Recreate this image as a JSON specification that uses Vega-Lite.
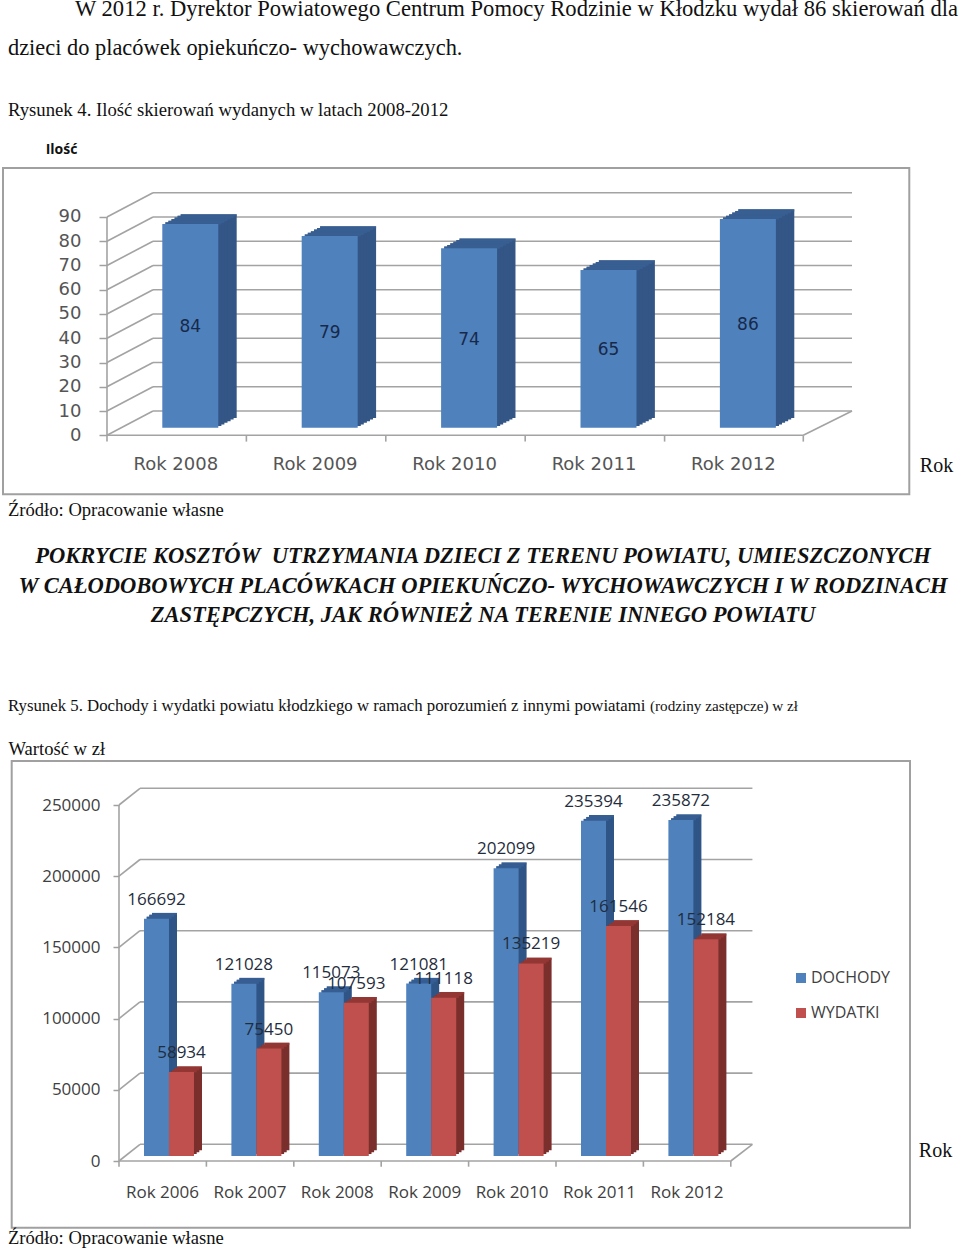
{
"$schema":"https://vega.github.io/schema/vega-lite/v6.json",
"padding":{"left":0,"right":0,"top":-2,"bottom":0},"background":"white","spacing":0,"bounds":"flush",
"config":{"view":{"stroke":null},"text":{"font":"Liberation Serif","color":"#111111"}},
"datasets":{
"skierowania":[{"rok":2008,"ilosc":84,"polowa":42},{"rok":2009,"ilosc":79,"polowa":39.5},{"rok":2010,"ilosc":74,"polowa":37},{"rok":2011,"ilosc":65,"polowa":32.5},{"rok":2012,"ilosc":86,"polowa":43}],
"siatka1":[{"v":0,"vb":10},{"v":10,"vb":20},{"v":20,"vb":30},{"v":30,"vb":40},{"v":40,"vb":50},{"v":50,"vb":60},{"v":60,"vb":70},{"v":70,"vb":80},{"v":80,"vb":90},{"v":90,"vb":100}],
"kreski1":[{"g":2007.4024},{"g":2008.4024},{"g":2009.4024},{"g":2010.4024},{"g":2011.4024},{"g":2012.3974}],
"dochody":[{"rok":2006,"seria":"DOCHODY","w":166692},{"rok":2007,"seria":"DOCHODY","w":121028},{"rok":2008,"seria":"DOCHODY","w":115073},{"rok":2009,"seria":"DOCHODY","w":121081},{"rok":2010,"seria":"DOCHODY","w":202099},{"rok":2011,"seria":"DOCHODY","w":235394},{"rok":2012,"seria":"DOCHODY","w":235872}],
"wydatki":[{"rok":2006,"seria":"WYDATKI","w":58934},{"rok":2007,"seria":"WYDATKI","w":75450},{"rok":2008,"seria":"WYDATKI","w":107593},{"rok":2009,"seria":"WYDATKI","w":111118},{"rok":2010,"seria":"WYDATKI","w":135219},{"rok":2011,"seria":"WYDATKI","w":161546},{"rok":2012,"seria":"WYDATKI","w":152184}],
"siatka2":[{"v":0,"vb":11727},{"v":50000,"vb":61727},{"v":100000,"vb":111727},{"v":150000,"vb":161727},{"v":200000,"vb":211727},{"v":250000,"vb":261727}],
"kreski2":[{"g":2005.4279},{"g":2006.4279},{"g":2007.4279},{"g":2008.4279},{"g":2009.4279},{"g":2010.4279},{"g":2011.4279},{"g":2012.4279}]
},
"vconcat":[
{"width":960,"height":640,
"layer":[
{"mark":{"type":"rect","filled":false,"stroke":"#A0A0A0","strokeWidth":2},"data":{"values":[{"a":1}]},
 "encoding":{"x":{"datum":2006.6564,"type":"quantitative","scale":{"domain":[2006.6349,2013.5216],"nice":false,"zero":false,"padding":0},
   "axis":{"orient":"bottom","offset":-185,"values":[2008,2009,2010,2011,2012],"labelExpr":"'Rok ' + datum.value","domain":false,"ticks":false,"grid":false,"labelPadding":0,"labelOffset":-15,"labelFont":"DejaVu Sans","labelFontSize":18,"labelColor":"#555555","labelOverlap":false,
    "title":"Rok","titleFont":"Liberation Serif","titleFontSize":20,"titleFontWeight":"normal","titleColor":"#111111","titleX":936,"titleY":10,"titleAlign":"center","titleBaseline":"middle"}},
  "x2":{"datum":2013.1578},
  "y":{"datum":110.18,"type":"quantitative","scale":{"domain":[-84.38,179.43],"nice":false,"zero":false},
   "axis":{"orient":"left","offset":-107,"values":[0,10,20,30,40,50,60,70,80,90],"domain":false,"grid":false,"tickSize":8,"tickColor":"#A0A0A0","tickWidth":1.5,"labelPadding":18,"labelFont":"DejaVu Sans","labelFontSize":18,"labelColor":"#555555",
    "title":"Ilość","titleFont":"Open Sans","titleFontSize":14,"titleFontWeight":"bold","titleColor":"#111111","titleAngle":0,"titleX":-46,"titleY":149,"titleAlign":"center","titleBaseline":"middle"}},
  "y2":{"datum":-24.32}}},
{"data":{"name":"siatka1"},"mark":{"type":"rule","stroke":"#A3A3A3","strokeWidth":1.6},"encoding":{"x":{"datum":2007.7324,"type":"quantitative"},"x2":{"datum":2012.7469},"y":{"field":"vb","type":"quantitative"}}},
{"data":{"name":"siatka1"},"mark":{"type":"rule","stroke":"#A3A3A3","strokeWidth":1.6},"encoding":{"x":{"datum":2007.4024,"type":"quantitative"},"x2":{"datum":2007.7324},"y":{"field":"v","type":"quantitative"},"y2":{"field":"vb"}}},
{"data":{"values":[{"a":1}]},"mark":{"type":"rule","stroke":"#A3A3A3","strokeWidth":1.6},"encoding":{"x":{"datum":2007.4024,"type":"quantitative"},"y":{"datum":0,"type":"quantitative"},"y2":{"datum":90}}},
{"data":{"values":[{"a":1}]},"mark":{"type":"rule","stroke":"#A3A3A3","strokeWidth":1.6},"encoding":{"x":{"datum":2007.4024,"type":"quantitative"},"x2":{"datum":2012.3974},"y":{"datum":0,"type":"quantitative"}}},
{"data":{"values":[{"a":1}]},"mark":{"type":"rule","stroke":"#A3A3A3","strokeWidth":1.6},"encoding":{"x":{"datum":2012.3974,"type":"quantitative"},"x2":{"datum":2012.7469},"y":{"datum":0,"type":"quantitative"},"y2":{"datum":10}}},
{"data":{"name":"kreski1"},"mark":{"type":"rule","stroke":"#A3A3A3","strokeWidth":1.6},"encoding":{"x":{"field":"g","type":"quantitative"},"y":{"datum":0,"type":"quantitative"},"y2":{"datum":-2.6}}},
{"data":{"name":"skierowania"},"mark":{"type":"bar","orient":"vertical","size":56,"color":"#335686","xOffset":18.4,"yOffset":-17.3,"y2Offset":-17.3},"encoding":{"x":{"field":"rok","type":"quantitative"},"y":{"field":"ilosc","type":"quantitative"},"y2":{"datum":0}}},
{"data":{"name":"skierowania"},"mark":{"type":"bar","orient":"vertical","size":56,"color":"#335686","xOffset":15.3,"yOffset":-15.7,"y2Offset":-15.7},"encoding":{"x":{"field":"rok","type":"quantitative"},"y":{"field":"ilosc","type":"quantitative"},"y2":{"datum":0}}},
{"data":{"name":"skierowania"},"mark":{"type":"bar","orient":"vertical","size":56,"color":"#335686","xOffset":12.3,"yOffset":-14.1,"y2Offset":-14.1},"encoding":{"x":{"field":"rok","type":"quantitative"},"y":{"field":"ilosc","type":"quantitative"},"y2":{"datum":0}}},
{"data":{"name":"skierowania"},"mark":{"type":"bar","orient":"vertical","size":56,"color":"#335686","xOffset":9.2,"yOffset":-12.5,"y2Offset":-12.5},"encoding":{"x":{"field":"rok","type":"quantitative"},"y":{"field":"ilosc","type":"quantitative"},"y2":{"datum":0}}},
{"data":{"name":"skierowania"},"mark":{"type":"bar","orient":"vertical","size":56,"color":"#335686","xOffset":6.1,"yOffset":-10.8,"y2Offset":-10.8},"encoding":{"x":{"field":"rok","type":"quantitative"},"y":{"field":"ilosc","type":"quantitative"},"y2":{"datum":0}}},
{"data":{"name":"skierowania"},"mark":{"type":"bar","orient":"vertical","size":56,"color":"#335686","xOffset":3.1,"yOffset":-9.2,"y2Offset":-9.2},"encoding":{"x":{"field":"rok","type":"quantitative"},"y":{"field":"ilosc","type":"quantitative"},"y2":{"datum":0}}},
{"data":{"name":"skierowania"},"mark":{"type":"tick","orient":"horizontal","size":56,"thickness":2.2,"color":"#3B6395","xOffset":18.4,"yOffset":-16.2},"encoding":{"x":{"field":"rok","type":"quantitative"},"y":{"field":"ilosc","type":"quantitative"}}},
{"data":{"name":"skierowania"},"mark":{"type":"tick","orient":"horizontal","size":56,"thickness":2.2,"color":"#3B6395","xOffset":15.3,"yOffset":-14.6},"encoding":{"x":{"field":"rok","type":"quantitative"},"y":{"field":"ilosc","type":"quantitative"}}},
{"data":{"name":"skierowania"},"mark":{"type":"tick","orient":"horizontal","size":56,"thickness":2.2,"color":"#3B6395","xOffset":12.3,"yOffset":-13},"encoding":{"x":{"field":"rok","type":"quantitative"},"y":{"field":"ilosc","type":"quantitative"}}},
{"data":{"name":"skierowania"},"mark":{"type":"tick","orient":"horizontal","size":56,"thickness":2.2,"color":"#3B6395","xOffset":9.2,"yOffset":-11.4},"encoding":{"x":{"field":"rok","type":"quantitative"},"y":{"field":"ilosc","type":"quantitative"}}},
{"data":{"name":"skierowania"},"mark":{"type":"tick","orient":"horizontal","size":56,"thickness":2.2,"color":"#3B6395","xOffset":6.1,"yOffset":-9.7},"encoding":{"x":{"field":"rok","type":"quantitative"},"y":{"field":"ilosc","type":"quantitative"}}},
{"data":{"name":"skierowania"},"mark":{"type":"tick","orient":"horizontal","size":56,"thickness":2.2,"color":"#3B6395","xOffset":3.1,"yOffset":-8.2},"encoding":{"x":{"field":"rok","type":"quantitative"},"y":{"field":"ilosc","type":"quantitative"}}},
{"data":{"name":"skierowania"},"mark":{"type":"bar","orient":"vertical","size":56,"color":"#4F81BD","yOffset":-7.6,"y2Offset":-7.6},"encoding":{"x":{"field":"rok","type":"quantitative"},"y":{"field":"ilosc","type":"quantitative"},"y2":{"datum":0}}},
{"data":{"name":"skierowania"},"mark":{"type":"text","font":"DejaVu Sans","fontSize":17,"color":"#17294A","dy":-6,"baseline":"middle"},"encoding":{"x":{"field":"rok","type":"quantitative"},"y":{"field":"polowa","type":"quantitative"},"text":{"field":"ilosc","type":"quantitative"}}},
{"data":{"values":[{"a":1}]},"mark":{"type":"text","text":"W 2012 r. Dyrektor Powiatowego Centrum Pomocy Rodzinie w Kłodzku wydał 86 skierowań dla","fontSize":22.6,"align":"left","baseline":"alphabetic"},"encoding":{"x":{"datum":2007.173,"type":"quantitative"},"y":{"datum":172.8,"type":"quantitative"}}},
{"data":{"values":[{"a":1}]},"mark":{"type":"text","text":"dzieci do placówek opiekuńczo- wychowawczych.","fontSize":22.4,"align":"left","baseline":"alphabetic"},"encoding":{"x":{"datum":2006.692,"type":"quantitative"},"y":{"datum":156.8,"type":"quantitative"}}},
{"data":{"values":[{"a":1}]},"mark":{"type":"text","text":"Rysunek 4. Ilość skierowań wydanych w latach 2008-2012","fontSize":18.7,"align":"left","baseline":"alphabetic"},"encoding":{"x":{"datum":2006.692,"type":"quantitative"},"y":{"datum":131.6,"type":"quantitative"}}},
{"data":{"values":[{"a":1}]},"mark":{"type":"text","text":"Źródło: Opracowanie własne","fontSize":18.6,"align":"left","baseline":"alphabetic"},"encoding":{"x":{"datum":2006.692,"type":"quantitative"},"y":{"datum":-33.3,"type":"quantitative"}}},
{"data":{"values":[{"a":1}]},"mark":{"type":"text","text":["POKRYCIE KOSZTÓW\u00a0 UTRZYMANIA DZIECI Z TERENU POWIATU, UMIESZCZONYCH","W CAŁODOBOWYCH PLACÓWKACH OPIEKUŃCZO- WYCHOWAWCZYCH I W RODZINACH","ZASTĘPCZYCH, JAK RÓWNIEŻ NA TERENIE INNEGO POWIATU"],"fontSize":22.5,"fontWeight":"bold","fontStyle":"italic","lineHeight":29.7,"align":"center","baseline":"alphabetic"},"encoding":{"x":{"datum":2010.0997,"type":"quantitative"},"y":{"datum":-52.6,"type":"quantitative"}}}
]},
{"width":960,"height":610,
"layer":[
{"mark":{"type":"rect","filled":false,"stroke":"#A0A0A0","strokeWidth":2},"data":{"values":[{"a":1}]},
 "encoding":{"x":{"datum":2004.2003,"type":"quantitative","scale":{"domain":[2004.0664,2015.0503],"nice":false,"zero":false,"padding":0},
   "axis":{"orient":"bottom","offset":-66,"values":[2006,2007,2008,2009,2010,2011,2012],"labelExpr":"'Rok ' + datum.value","domain":false,"ticks":false,"grid":false,"labelPadding":0,"labelOffset":-7,"labelFont":"Open Sans","labelFontSize":17,"labelColor":"#404040","labelOverlap":false,
    "title":"Rok","titleFont":"Liberation Serif","titleFontSize":20,"titleFontWeight":"normal","titleColor":"#111111","titleX":935,"titleY":-34,"titleAlign":"center","titleBaseline":"middle"}},
  "x2":{"datum":2014.4783},
  "y":{"datum":280899,"type":"quantitative","scale":{"domain":[-62500,365871],"nice":false,"zero":false},
   "axis":{"orient":"left","offset":-119,"values":[0,50000,100000,150000,200000,250000],"format":"d","domain":false,"grid":false,"tickSize":6,"tickColor":"#A0A0A0","tickWidth":1.5,"labelPadding":13,"labelFont":"Open Sans","labelFontSize":17,"labelColor":"#404040",
    "title":"Wartość w zł","titleFont":"Liberation Serif","titleFontSize":18.6,"titleFontWeight":"normal","titleColor":"#111111","titleAngle":0,"titleX":-111,"titleY":108,"titleAlign":"left","titleBaseline":"middle"}},
  "y2":{"datum":-46840}}},
{"data":{"name":"siatka2"},"mark":{"type":"rule","stroke":"#A3A3A3","strokeWidth":1.6},"encoding":{"x":{"datum":2005.6682,"type":"quantitative"},"x2":{"datum":2012.6752},"y":{"field":"vb","type":"quantitative"}}},
{"data":{"name":"siatka2"},"mark":{"type":"rule","stroke":"#A3A3A3","strokeWidth":1.6},"encoding":{"x":{"datum":2005.4279,"type":"quantitative"},"x2":{"datum":2005.6682},"y":{"field":"v","type":"quantitative"},"y2":{"field":"vb"}}},
{"data":{"values":[{"a":1}]},"mark":{"type":"rule","stroke":"#A3A3A3","strokeWidth":1.6},"encoding":{"x":{"datum":2005.4279,"type":"quantitative"},"y":{"datum":0,"type":"quantitative"},"y2":{"datum":250000}}},
{"data":{"values":[{"a":1}]},"mark":{"type":"rule","stroke":"#A3A3A3","strokeWidth":1.6},"encoding":{"x":{"datum":2005.4279,"type":"quantitative"},"x2":{"datum":2012.4279},"y":{"datum":0,"type":"quantitative"}}},
{"data":{"values":[{"a":1}]},"mark":{"type":"rule","stroke":"#A3A3A3","strokeWidth":1.6},"encoding":{"x":{"datum":2012.4279,"type":"quantitative"},"x2":{"datum":2012.6752},"y":{"datum":0,"type":"quantitative"},"y2":{"datum":11727}}},
{"data":{"name":"kreski2"},"mark":{"type":"rule","stroke":"#A3A3A3","strokeWidth":1.6},"encoding":{"x":{"field":"g","type":"quantitative"},"y":{"datum":0,"type":"quantitative"},"y2":{"datum":-4000}}},
{"data":{"name":"dochody"},"mark":{"type":"bar","orient":"vertical","size":25,"color":"#2F5486","xOffset":-4.5,"yOffset":-10.7,"y2Offset":-10.7},"encoding":{"x":{"field":"rok","type":"quantitative"},"y":{"field":"w","type":"quantitative"},"y2":{"datum":0}}},
{"data":{"name":"dochody"},"mark":{"type":"bar","orient":"vertical","size":25,"color":"#2F5486","xOffset":-7.2,"yOffset":-8.8,"y2Offset":-8.8},"encoding":{"x":{"field":"rok","type":"quantitative"},"y":{"field":"w","type":"quantitative"},"y2":{"datum":0}}},
{"data":{"name":"dochody"},"mark":{"type":"bar","orient":"vertical","size":25,"color":"#2F5486","xOffset":-9.8,"yOffset":-6.9,"y2Offset":-6.9},"encoding":{"x":{"field":"rok","type":"quantitative"},"y":{"field":"w","type":"quantitative"},"y2":{"datum":0}}},
{"data":{"name":"dochody"},"mark":{"type":"tick","orient":"horizontal","size":25,"thickness":2.2,"color":"#3A6399","xOffset":-4.5,"yOffset":-9.7},"encoding":{"x":{"field":"rok","type":"quantitative"},"y":{"field":"w","type":"quantitative"}}},
{"data":{"name":"dochody"},"mark":{"type":"tick","orient":"horizontal","size":25,"thickness":2.2,"color":"#3A6399","xOffset":-7.2,"yOffset":-7.8},"encoding":{"x":{"field":"rok","type":"quantitative"},"y":{"field":"w","type":"quantitative"}}},
{"data":{"name":"dochody"},"mark":{"type":"tick","orient":"horizontal","size":25,"thickness":2.2,"color":"#3A6399","xOffset":-9.8,"yOffset":-5.9},"encoding":{"x":{"field":"rok","type":"quantitative"},"y":{"field":"w","type":"quantitative"}}},
{"data":{"name":"dochody"},"mark":{"type":"bar","orient":"vertical","size":25,"xOffset":-12.5,"yOffset":-5,"y2Offset":-5},"encoding":{"x":{"field":"rok","type":"quantitative"},"y":{"field":"w","type":"quantitative"},"y2":{"datum":0},
 "color":{"field":"seria","type":"nominal","scale":{"domain":["DOCHODY","WYDATKI"],"range":["#4F81BD","#C0504D"]},"legend":{"orient":"none","legendX":793,"legendY":970,"title":null,"labelFont":"Open Sans","labelFontSize":16,"labelColor":"#404040","symbolType":"square","symbolSize":100,"symbolStrokeWidth":0,"rowPadding":19,"labelOffset":2}}}},
{"data":{"name":"wydatki"},"mark":{"type":"bar","orient":"vertical","size":25,"color":"#7B2F2D","xOffset":20.5,"yOffset":-10.7,"y2Offset":-10.7},"encoding":{"x":{"field":"rok","type":"quantitative"},"y":{"field":"w","type":"quantitative"},"y2":{"datum":0}}},
{"data":{"name":"wydatki"},"mark":{"type":"bar","orient":"vertical","size":25,"color":"#7B2F2D","xOffset":17.8,"yOffset":-8.8,"y2Offset":-8.8},"encoding":{"x":{"field":"rok","type":"quantitative"},"y":{"field":"w","type":"quantitative"},"y2":{"datum":0}}},
{"data":{"name":"wydatki"},"mark":{"type":"bar","orient":"vertical","size":25,"color":"#7B2F2D","xOffset":15.2,"yOffset":-6.9,"y2Offset":-6.9},"encoding":{"x":{"field":"rok","type":"quantitative"},"y":{"field":"w","type":"quantitative"},"y2":{"datum":0}}},
{"data":{"name":"wydatki"},"mark":{"type":"tick","orient":"horizontal","size":25,"thickness":2.2,"color":"#9C3B38","xOffset":20.5,"yOffset":-9.7},"encoding":{"x":{"field":"rok","type":"quantitative"},"y":{"field":"w","type":"quantitative"}}},
{"data":{"name":"wydatki"},"mark":{"type":"tick","orient":"horizontal","size":25,"thickness":2.2,"color":"#9C3B38","xOffset":17.8,"yOffset":-7.8},"encoding":{"x":{"field":"rok","type":"quantitative"},"y":{"field":"w","type":"quantitative"}}},
{"data":{"name":"wydatki"},"mark":{"type":"tick","orient":"horizontal","size":25,"thickness":2.2,"color":"#9C3B38","xOffset":15.2,"yOffset":-5.9},"encoding":{"x":{"field":"rok","type":"quantitative"},"y":{"field":"w","type":"quantitative"}}},
{"data":{"name":"wydatki"},"mark":{"type":"bar","orient":"vertical","size":25,"xOffset":12.5,"yOffset":-5,"y2Offset":-5},"encoding":{"x":{"field":"rok","type":"quantitative"},"y":{"field":"w","type":"quantitative"},"y2":{"datum":0},"color":{"field":"seria","type":"nominal"}}},
{"data":{"name":"dochody"},"mark":{"type":"text","font":"Open Sans","fontSize":17,"color":"#1F2D3D","dx":-12.5,"dy":-24,"baseline":"middle"},"encoding":{"x":{"field":"rok","type":"quantitative"},"y":{"field":"w","type":"quantitative"},"text":{"field":"w","type":"quantitative","format":"d"}}},
{"data":{"name":"wydatki"},"mark":{"type":"text","font":"Open Sans","fontSize":17,"color":"#1F2D3D","dx":12.5,"dy":-24,"baseline":"middle"},"encoding":{"x":{"field":"rok","type":"quantitative"},"y":{"field":"w","type":"quantitative"},"text":{"field":"w","type":"quantitative","format":"d"}}},
{"data":{"values":[{"a":1}]},"mark":{"type":"text","text":"Rysunek 5. Dochody i wydatki powiatu kłodzkiego w ramach porozumień z innymi powiatami","fontSize":16.8,"align":"left","baseline":"alphabetic"},"encoding":{"x":{"datum":2004.1579,"type":"quantitative"},"y":{"datum":316011,"type":"quantitative"}}},
{"data":{"values":[{"a":1}]},"mark":{"type":"text","text":"(rodziny zastępcze) w zł","fontSize":15.2,"align":"left","baseline":"alphabetic"},"encoding":{"x":{"datum":2011.5035,"type":"quantitative"},"y":{"datum":316011,"type":"quantitative"}}},
{"data":{"values":[{"a":1}]},"mark":{"type":"text","text":"Źródło: Opracowanie własne","fontSize":18.6,"align":"left","baseline":"alphabetic"},"encoding":{"x":{"datum":2004.1579,"type":"quantitative"},"y":{"datum":-58288,"type":"quantitative"}}}
]}
]}
